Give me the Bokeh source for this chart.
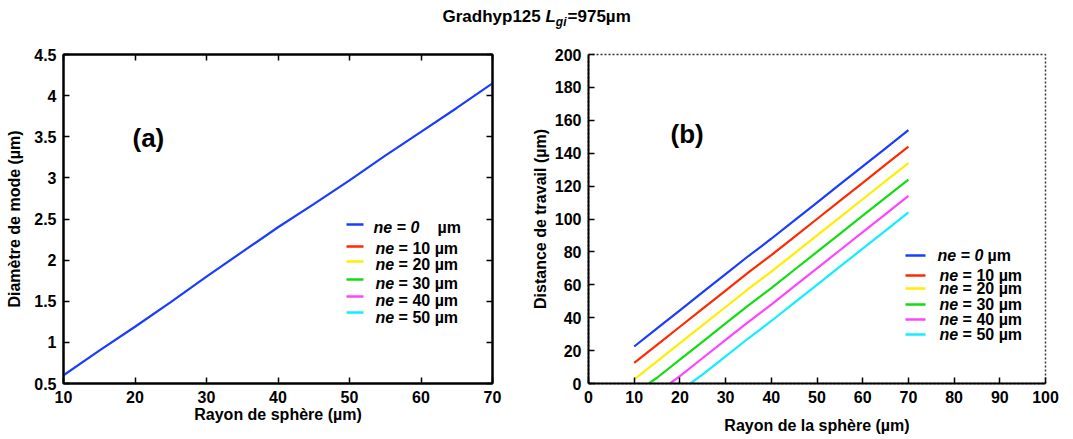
from bokeh.plotting import figure
from bokeh.models import (Range1d, LinearAxis, Label, BoxAnnotation, FixedTicker,
                          NumeralTickFormatter)
from bokeh.layouts import column, row
from bokeh.embed import file_html
from bokeh.resources import INLINE

FONT = "Liberation Sans"

# ---------------- data ----------------
title_main = "Gradhyp125 "
title_sym = "L"
title_sub = "gi"
title_rest = "=975µm"

panel_a_tag = "(a)"
panel_b_tag = "(b)"

xlabel_a = "Rayon de sphère (µm)"
ylabel_a = "Diamètre de mode (µm)"
xlabel_b = "Rayon de la sphère (µm)"
ylabel_b = "Distance de travail (µm)"

x_ticks_a = [10, 20, 30, 40, 50, 60, 70]
y_ticks_a = [0.5, 1, 1.5, 2, 2.5, 3, 3.5, 4, 4.5]
x_ticks_b = [0, 10, 20, 30, 40, 50, 60, 70, 80, 90, 100]
y_ticks_b = [0, 20, 40, 60, 80, 100, 120, 140, 160, 180, 200]

ne_values = [0, 10, 20, 30, 40, 50]
ne_colors = ["#1a3cff", "#ff2a00", "#ffee00", "#11dd11", "#ff44ff", "#11eeff"]

# (a) mode diameter vs sphere radius
radius_a = [10, 15, 20, 25, 30, 35, 40, 45, 50, 55, 60, 65, 70]
mode_diameter = [0.60, 0.90, 1.19, 1.49, 1.80, 2.10, 2.40, 2.68, 2.97, 3.27, 3.56, 3.85, 4.15]

# (b) working distance vs sphere radius, one series per ne
radius_ne0 = [10, 15, 20, 25, 30, 35, 40, 45, 50, 55, 60, 65, 70]
wd_ne0 = [22.5, 33.5, 44.5, 55.5, 66.5, 77.5, 88, 99, 110, 121, 132, 143, 154]
radius_ne10 = [10, 15, 20, 25, 30, 35, 40, 45, 50, 55, 60, 65, 70]
wd_ne10 = [12.5, 23.5, 34.5, 45.5, 56.5, 67.5, 78, 89, 100, 111, 122, 133, 144]
radius_ne20 = [10, 15, 20, 25, 30, 35, 40, 45, 50, 55, 60, 65, 70]
wd_ne20 = [2.5, 13.5, 24.5, 35.5, 46.5, 57.5, 68, 79, 90, 101, 112, 123, 134]
radius_ne30 = [13.2, 15, 20, 25, 30, 35, 40, 45, 50, 55, 60, 65, 70]
wd_ne30 = [0, 3.5, 14.5, 25.5, 36.5, 47.5, 58, 69, 80, 91, 102, 113, 124]
radius_ne40 = [17.8, 20, 25, 30, 35, 40, 45, 50, 55, 60, 65, 70]
wd_ne40 = [0, 4.5, 15.5, 26.5, 37.5, 48, 59, 70, 81, 92, 103, 114]
radius_ne50 = [22.3, 25, 30, 35, 40, 45, 50, 55, 60, 65, 70]
wd_ne50 = [0, 5.5, 16.5, 27.5, 38, 49, 60, 71, 82, 93, 104]

series_b = [(radius_ne0, wd_ne0), (radius_ne10, wd_ne10), (radius_ne20, wd_ne20),
            (radius_ne30, wd_ne30), (radius_ne40, wd_ne40), (radius_ne50, wd_ne50)]

# ---------------- layout geometry (page px; bokeh page has no margin) ----------------
TOTAL_W, TOTAL_H = 1073, 439
TOP_H = 36
P1_W = 528
P2_W = TOTAL_W - P1_W
P_H = TOTAL_H - TOP_H
F0 = (0, 0, TOTAL_W, TOP_H)                  # title strip frame
F1 = (63, 52, 492, 383)                      # left, top, right, bottom
F2 = (586, 54, 1045, 387)


def scr(F, wx, wy):
    return wx - F[0], F[3] - wy


def add_label(fig, F, wx, wy, text, size="16px", style="bold", align="left",
              baseline="middle"):
    x, y = scr(F, wx, wy)
    fig.add_layout(Label(x=x, y=y, x_units="screen", y_units="screen", text=text,
                         text_font=FONT, text_font_size=size, text_font_style=style,
                         text_align=align, text_baseline=baseline, text_color="black"))


def add_swatch(fig, F, wx0, wx1, wy, color):
    x0, y = scr(F, wx0, wy)
    x1, _ = scr(F, wx1, wy)
    fig.add_layout(BoxAnnotation(left=x0, right=x1, bottom=y - 1.2, top=y + 1.2,
                                 left_units="screen", right_units="screen",
                                 top_units="screen", bottom_units="screen",
                                 fill_color=color, fill_alpha=1.0, line_color=None,
                                 level="overlay"))


def style_axis(ax, show_labels=True):
    ax.axis_line_width = 2
    ax.axis_line_color = "black"
    ax.major_tick_in = 6
    ax.major_tick_out = 0
    ax.major_tick_line_width = 1.5
    ax.major_tick_line_color = "black"
    ax.minor_tick_line_color = None
    ax.major_label_text_font = FONT
    ax.major_label_text_font_style = "bold"
    ax.major_label_text_color = "black"
    ax.major_label_standoff = 7
    ax.axis_label_text_font = FONT
    ax.axis_label_text_font_style = "bold"
    ax.axis_label_text_font_size = "16px"
    ax.axis_label_text_color = "black"
    if show_labels:
        ax.major_label_text_font_size = "16px"
    else:
        ax.major_label_text_font_size = "1px"
        ax.major_label_text_color = None
        ax.major_label_standoff = 0


# ---------------- title strip ----------------
pt = figure(width=TOTAL_W, height=TOP_H, x_axis_location=None, y_axis_location=None,
            toolbar_location=None, min_border=0, outline_line_color=None,
            output_backend="svg", x_range=Range1d(0, 1), y_range=Range1d(0, 1))
pt.xgrid.grid_line_color = None
pt.ygrid.grid_line_color = None
tx = 442
add_label(pt, F0, tx, 16, title_main, size="17px")
tx += 6.058 * 17
add_label(pt, F0, tx, 16, title_sym, size="17px", style="bold italic")
tx += 0.611 * 17
add_label(pt, F0, tx, 21, title_sub, size="12px", style="bold italic")
tx += 0.889 * 12 + 1
add_label(pt, F0, tx, 16, title_rest, size="17px")

# ---------------- panel (a) ----------------
p1 = figure(width=P1_W, height=P_H, toolbar_location=None, output_backend="svg",
            x_range=Range1d(10, 70), y_range=Range1d(0.5, 4.5),
            min_border_left=F1[0], min_border_right=P1_W - F1[2],
            min_border_top=F1[1] - TOP_H, min_border_bottom=TOTAL_H - F1[3],
            x_axis_label=xlabel_a, y_axis_label=ylabel_a)
p1.xgrid.grid_line_color = None
p1.ygrid.grid_line_color = None
p1.outline_line_color = "black"
p1.outline_line_width = 2
p1.xaxis.ticker = FixedTicker(ticks=x_ticks_a)
p1.yaxis.ticker = FixedTicker(ticks=y_ticks_a)
p1.yaxis.formatter = NumeralTickFormatter(format="0.[0]")
for ax in p1.xaxis + p1.yaxis:
    style_axis(ax)
p1.xaxis.axis_label_standoff = 0
p1.yaxis.axis_label_standoff = 8
top_ax = LinearAxis(ticker=FixedTicker(ticks=x_ticks_a))
right_ax = LinearAxis(ticker=FixedTicker(ticks=y_ticks_a))
style_axis(top_ax, show_labels=False)
style_axis(right_ax, show_labels=False)
p1.add_layout(top_ax, "above")
p1.add_layout(right_ax, "right")

p1.line(radius_a, mode_diameter, line_color=ne_colors[0], line_width=2.2)

add_label(p1, F1, 132, 137, panel_a_tag, size="26px")

# legend (a)
leg_a_sw = [224, 246, 261, 279, 296, 312]
leg_a_tx = [227, 248, 264, 283, 300, 317]
for i, ne in enumerate(ne_values):
    add_swatch(p1, F1, 346, 363, leg_a_sw[i], ne_colors[i])
    if i == 0:
        add_label(p1, F1, 373, leg_a_tx[i], f"ne = {ne}", style="bold italic")
        add_label(p1, F1, 437, leg_a_tx[i], "µm")
    else:
        add_label(p1, F1, 375, leg_a_tx[i], "ne", style="bold italic")
        add_label(p1, F1, 375 + 1.445 * 16, leg_a_tx[i], f"= {ne} µm")

# ---------------- panel (b) ----------------
p2 = figure(width=P2_W, height=P_H, toolbar_location=None, output_backend="svg",
            x_range=Range1d(0, 100), y_range=Range1d(0, 200),
            min_border_left=F2[0] - P1_W, min_border_right=TOTAL_W - F2[2],
            min_border_top=F2[1] - TOP_H, min_border_bottom=TOTAL_H - F2[3],
            x_axis_label=xlabel_b, y_axis_label=ylabel_b)
p2.xgrid.grid_line_color = None
p2.ygrid.grid_line_color = None
p2.outline_line_color = "#333333"
p2.outline_line_width = 1.5
p2.outline_line_dash = "2 2"
p2.xaxis.ticker = FixedTicker(ticks=x_ticks_b)
p2.yaxis.ticker = FixedTicker(ticks=y_ticks_b)
for ax in p2.xaxis + p2.yaxis:
    style_axis(ax)
p2.xaxis.axis_label_standoff = 11
p2.yaxis.axis_label_standoff = 3

for (xs, ys), c in zip(series_b, ne_colors):
    p2.line(xs, ys, line_color=c, line_width=2.2)

add_label(p2, F2, 668, 137, panel_b_tag, size="26px")

leg_b_sw = [259, 279, 292, 308, 323, 338]
for i, ne in enumerate(ne_values):
    add_swatch(p2, F2, 903, 923, leg_b_sw[i], ne_colors[i])
    if i == 0:
        add_label(p2, F2, 935, leg_b_sw[i], f"ne = {ne}", style="bold italic")
        add_label(p2, F2, 985, leg_b_sw[i], "µm")
    else:
        add_label(p2, F2, 937, leg_b_sw[i], "ne", style="bold italic")
        add_label(p2, F2, 937 + 1.445 * 16, leg_b_sw[i], f"= {ne} µm")

layout = column(pt, row(p1, p2, spacing=0), spacing=0)
open("out.html", "w").write(file_html(layout, INLINE))
